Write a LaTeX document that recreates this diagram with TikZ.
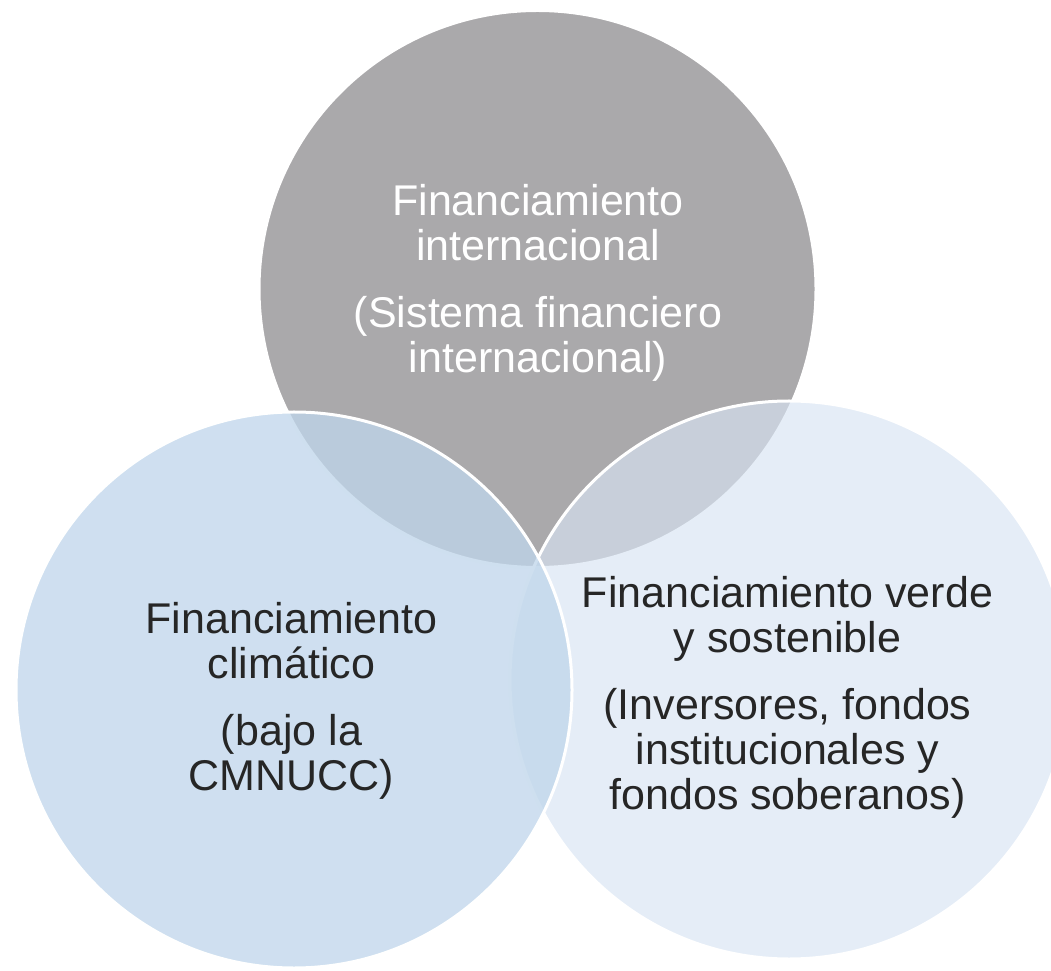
\documentclass[tikz,border=0pt]{standalone}
\usepackage{fontspec}
\setmainfont{Liberation Sans}
\definecolor{grisc}{RGB}{170,169,171}
\definecolor{azulc}{RGB}{192,214,235}
\definecolor{azulv}{RGB}{216,228,243}
\definecolor{textc}{RGB}{38,38,38}
\begin{document}
\begin{tikzpicture}[x=1pt,y=1pt]
\tikzset{venn/.style={shape=circle,draw=white,line width=3pt,inner sep=0pt},
         label/.style={align=center,inner sep=0pt,text=textc,
                       font=\fontsize{43}{45}\selectfont}}
\useasboundingbox (0,0) rectangle (1051,970);
% circulos
\node[venn,fill=grisc,minimum size=557pt] (c1) at (537.5,681) {};
\node[venn,fill=azulv,fill opacity=0.66,minimum size=558pt] (c3) at (789,290) {};
\node[venn,fill=azulc,fill opacity=0.77,minimum size=556pt] (c2) at (294,280) {};
% textos
\node[label,text=white] (t1) at (538,687.5)
    {Financiamiento\\internacional\\[22pt](Sistema financiero\\internacional)};
\node[label] (t2) at (291.5,269.5)
    {Financiamiento\\clim\'atico\\[22pt](bajo la\\CMNUCC)};
\node[label] (t3) at (787.5,273)
    {Financiamiento verde\\y sostenible\\[22pt](Inversores, fondos\\institucionales y\\fondos soberanos)};
\end{tikzpicture}
\end{document}
